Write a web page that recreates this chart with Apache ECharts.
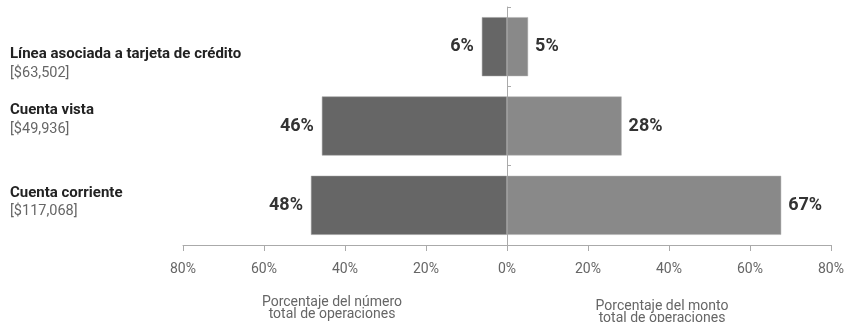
<!DOCTYPE html>
<html>
<head>
<meta charset="utf-8">
<script src="https://cdn.jsdelivr.net/npm/echarts@6/dist/echarts.min.js"></script>
<style>html,body{margin:0;padding:0;background:#fff}#c{width:844px;height:322px}</style>
</head>
<body>
<div id="c"></div>
<script>
var categories = ['Línea asociada a tarjeta de crédito', 'Cuenta vista', 'Cuenta corriente'];
var amounts = ['[$63,502]', '[$49,936]', '[$117,068]'];
var numeroPct = [6.2, 45.7, 48.4];
var montoPct = [5.2, 28.3, 67.7];
var numeroLabels = ['6%', '46%', '48%'];
var montoLabels = ['5%', '28%', '67%'];
var tickValues = [-80, -60, -40, -20, 0, 20, 40, 60, 80];
var axisTitleLeft = 'Porcentaje del número\ntotal de operaciones';
var axisTitleRight = 'Porcentaje del monto\ntotal de operaciones';

var FONT = 'Roboto';
var catPads = [[34, 0, 0, 0], [0, 0, 12, 0], [0, 0, 6, 0]];
var catData = categories.map(function (c, i) {
  return { value: c, textStyle: { padding: catPads[i] } };
});

var GRID_LEFT = 183, GRID_RIGHT = 13;
var chart = echarts.init(document.getElementById('c'));
var plotW = 844 - GRID_LEFT - GRID_RIGHT;

chart.setOption({
  animation: false,
  textStyle: { fontFamily: FONT },
  title: [
    { text: axisTitleLeft, left: 327, top: 291, textAlign: 'center',
      textStyle: { fontSize: 14, fontWeight: 'normal', color: '#666', lineHeight: 12, fontFamily: FONT } },
    { text: axisTitleRight, left: 657, top: 295, textAlign: 'center',
      textStyle: { fontSize: 14, fontWeight: 'normal', color: '#666', lineHeight: 12, fontFamily: FONT } }
  ],
  grid: { left: GRID_LEFT, right: GRID_RIGHT, top: 7, bottom: 77, containLabel: false, outerBoundsMode: 'none' },
  xAxis: {
    type: 'value', min: -80, max: 80, interval: 20,
    splitLine: { show: false },
    axisLine: { show: true, onZero: false, lineStyle: { color: '#aaa', width: 1 } },
    axisTick: { show: true, length: 6, lineStyle: { color: '#aaa' } },
    axisLabel: { margin: 17, fontSize: 14, color: '#666', fontFamily: FONT,
      formatter: function (v) { return Math.abs(v) + '%'; } }
  },
  yAxis: [
    {
      type: 'category', inverse: true, data: catData, position: 'left',
      axisLine: { show: false }, axisTick: { show: false },
      axisLabel: {
        margin: 0, fontFamily: FONT,
        formatter: function (v) {
          var i = categories.indexOf(v);
          return '{a|' + v + '}\n{b|' + amounts[i] + '}';
        },
        rich: {
          a: { fontSize: 15, fontWeight: 'bold', color: '#222', lineHeight: 19, width: 173, align: 'left', fontFamily: FONT },
          b: { fontSize: 14.5, color: '#666', lineHeight: 19, width: 173, align: 'left', fontFamily: FONT }
        }
      }
    },
    {
      type: 'category', inverse: true, data: categories, position: 'left',
      offset: -plotW / 2,
      axisLine: { show: true, onZero: false, lineStyle: { color: '#aaa', width: 1 } },
      axisTick: { show: true, inside: true, length: 4, lineStyle: { color: '#aaa' } },
      axisLabel: { show: false }
    }
  ],
  series: [
    {
      type: 'bar', yAxisIndex: 0, barWidth: 59, barGap: '-100%', z: 1,
      data: numeroPct.map(function (v) { return -v; }),
      itemStyle: { color: '#666666', borderColor: '#9a9a9a', borderWidth: 0.5 },
      label: { show: true, position: 'left', distance: 8, fontSize: 18, fontWeight: 'bold', color: '#333', fontFamily: FONT,
        formatter: function (p) { return numeroLabels[p.dataIndex]; } }
    },
    {
      type: 'bar', yAxisIndex: 0, barWidth: 59, barGap: '-100%', z: 1,
      data: montoPct,
      itemStyle: { color: '#898989', borderColor: '#b0b0b0', borderWidth: 0.5 },
      label: { show: true, position: 'right', distance: 7, fontSize: 18, fontWeight: 'bold', color: '#333', fontFamily: FONT,
        formatter: function (p) { return montoLabels[p.dataIndex]; } }
    }
  ]
});
</script>
</body>
</html>
